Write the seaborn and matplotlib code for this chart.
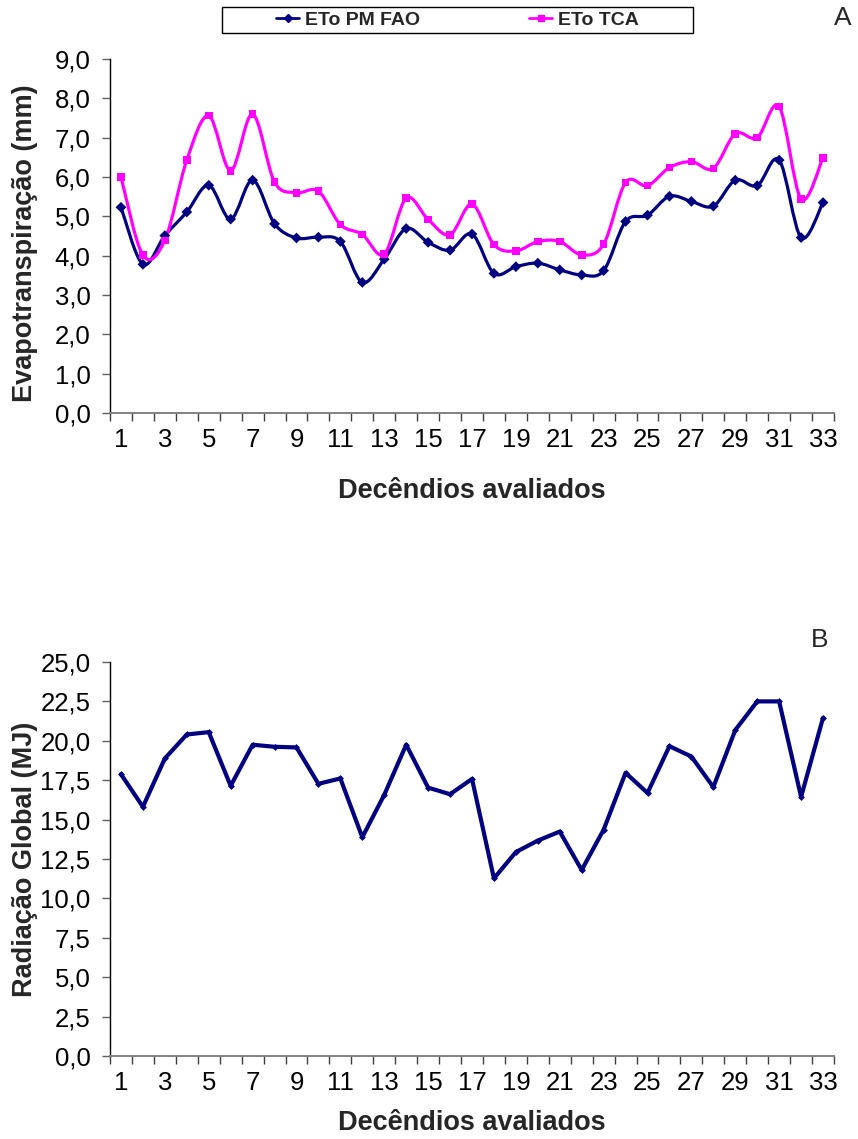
import numpy as np
import pandas as pd
import matplotlib
matplotlib.use("Agg")
import matplotlib.pyplot as plt
from matplotlib.path import Path
from matplotlib.patches import PathPatch, Rectangle
from matplotlib.lines import Line2D
from matplotlib.ticker import FixedLocator, FuncFormatter
import seaborn as sns

# ---- data -------------------------------------------------------------
decendios = list(range(1, 34))

eto_pm_fao = [5.23, 3.78, 4.51, 5.11, 5.79, 4.93, 5.92, 4.81, 4.45, 4.47,
              4.36, 3.32, 3.91, 4.69, 4.34, 4.14, 4.55, 3.55, 3.72, 3.81,
              3.64, 3.51, 3.62, 4.87, 5.03, 5.51, 5.38, 5.26, 5.92, 5.78,
              6.43, 4.46, 5.35]

eto_tca = [6.00, 4.01, 4.39, 6.43, 7.56, 6.16, 7.60, 5.87, 5.60, 5.64,
           4.79, 4.54, 4.04, 5.46, 4.92, 4.53, 5.31, 4.28, 4.12, 4.36,
           4.36, 4.02, 4.29, 5.86, 5.78, 6.24, 6.39, 6.22, 7.10, 7.00,
           7.79, 5.44, 6.49]

radiacao = [17.88, 15.81, 18.88, 20.40, 20.55, 17.14, 19.75, 19.62, 19.58,
            17.27, 17.61, 13.88, 16.57, 19.75, 17.03, 16.61, 17.58, 11.27,
            12.94, 13.67, 14.24, 11.80, 14.36, 17.97, 16.69, 19.66, 19.00,
            17.06, 20.68, 22.50, 22.50, 16.44, 21.46]

serie_labels = ["ETo PM FAO", "ETo TCA"]
xtick_labels = [str(v) for v in range(1, 34, 2)]

NAVY = "#000080"
MAGENTA = "#FF00FF"

# ---- style ------------------------------------------------------------
sns.set_theme(style="white")
plt.rcParams["font.family"] = ["Liberation Sans", "DejaVu Sans"]

W, H = 858, 1139
fig = plt.figure(figsize=(W / 100, H / 100), dpi=100)

ax_a = fig.add_axes([110 / W, 1 - 413 / H, 724 / W, 354 / H])
ax_b = fig.add_axes([110 / W, 1 - 1056 / H, 724 / W, 394 / H])


def smooth_path(xs, ys):
    """Bezier path through the points (Catmull-Rom style smoothing)."""
    pts = np.column_stack([xs, ys]).astype(float)
    n = len(pts)
    verts = [pts[0]]
    codes = [Path.MOVETO]
    for i in range(n - 1):
        p0 = pts[i - 1] if i > 0 else pts[i]
        p1 = pts[i]
        p2 = pts[i + 1]
        p3 = pts[i + 2] if i + 2 < n else pts[i + 1]
        c1 = p1 + (p2 - p0) / 6.0
        c2 = p2 - (p3 - p1) / 6.0
        verts += [c1, c2, p2]
        codes += [Path.CURVE4] * 3
    return Path(verts, codes)


def comma_fmt(v, pos):
    return f"{v:.1f}".replace(".", ",")


def style_axes(ax, ymax, ystep, ylabel):
    ax.set_xlim(0.5, 33.5)
    ax.set_ylim(0, ymax)
    for s in ("top", "right"):
        ax.spines[s].set_visible(False)
    ax.spines["left"].set_color("black")
    ax.spines["left"].set_linewidth(1.0)
    ax.spines["bottom"].set_color("#808080")
    ax.spines["bottom"].set_linewidth(1.4)
    ax.yaxis.set_major_locator(FixedLocator(np.arange(0, ymax + 1e-9, ystep)))
    ax.yaxis.set_major_formatter(FuncFormatter(comma_fmt))
    ax.xaxis.set_major_locator(FixedLocator(list(range(1, 34, 2))))
    ax.set_xticklabels(xtick_labels)
    ax.xaxis.set_minor_locator(FixedLocator(np.arange(0.5, 33.6, 1.0)))
    ax.tick_params(axis="y", which="major", direction="out", length=6,
                   width=1.0, color="#606060", pad=8, labelsize=18.5,
                   left=True, labelcolor="black")
    ax.tick_params(axis="x", which="major", length=0, pad=11, labelsize=18.5,
                   bottom=True, labelcolor="black")
    ax.tick_params(axis="x", which="minor", direction="out", length=6,
                   width=1.0, color="#404040", bottom=True)
    ax.set_ylabel(ylabel, fontsize=19.5, fontweight="bold")
    ax.set_xlabel("Decêndios avaliados", fontsize=19.5, fontweight="bold")
    ax.grid(False)


# ---- panel A: evapotranspiration -------------------------------------
df_a = pd.DataFrame({"decendio": decendios * 2,
                     "eto": eto_pm_fao + eto_tca,
                     "serie": [serie_labels[0]] * 33 + [serie_labels[1]] * 33})

ax_a.add_patch(PathPatch(smooth_path(decendios, eto_pm_fao), fill=False,
                         edgecolor=NAVY, lw=2.3, zorder=2))
ax_a.add_patch(PathPatch(smooth_path(decendios, eto_tca), fill=False,
                         edgecolor=MAGENTA, lw=2.3, zorder=2))
sns.scatterplot(data=df_a, x="decendio", y="eto", hue="serie", style="serie",
                markers={serie_labels[0]: "D", serie_labels[1]: "s"},
                palette={serie_labels[0]: NAVY, serie_labels[1]: MAGENTA},
                s=30, linewidth=0, legend=False, ax=ax_a, zorder=3)
style_axes(ax_a, 9.0, 1.0, "Evapotranspiração (mm)")
ax_a.yaxis.set_label_coords(-0.10, 0.48)
ax_a.xaxis.set_label_coords(0.5, -0.185)

# ---- panel B: global radiation ---------------------------------------
df_b = pd.DataFrame({"decendio": decendios, "radiacao": radiacao})
sns.lineplot(data=df_b, x="decendio", y="radiacao", color=NAVY, lw=3.0,
             marker="D", markersize=3.5, markeredgewidth=0, ax=ax_b)
style_axes(ax_b, 25.0, 2.5, "Radiação Global (MJ)")
ax_b.yaxis.set_label_coords(-0.10, 0.5)
ax_b.xaxis.set_label_coords(0.5, -0.137)

# ---- legend for panel A ----------------------------------------------
handles = [Line2D([], [], color=NAVY, lw=2.0, marker="D", markersize=4),
           Line2D([], [], color=MAGENTA, lw=2.0, marker="s", markersize=4.5)]
fig.legend(handles, serie_labels, loc="center",
           bbox_to_anchor=(457.5 / W, 1 - 20 / H), ncol=2, frameon=False,
           prop={"weight": "bold", "size": 14}, handlelength=1.2,
           handletextpad=0.3, columnspacing=5.6, borderpad=0.1)
fig.patches.append(Rectangle((222 / W, 1 - 33 / H), 471 / W, 26 / H,
                             transform=fig.transFigure, fill=False,
                             edgecolor="black", lw=1.0))

# ---- panel letters ----------------------------------------------------
fig.text(843 / W, 1 - 18 / H, "A", fontsize=19, ha="center", va="center")
fig.text(820 / W, 1 - 640 / H, "B", fontsize=19, ha="center", va="center")

fig.savefig("out.png", dpi=100)
